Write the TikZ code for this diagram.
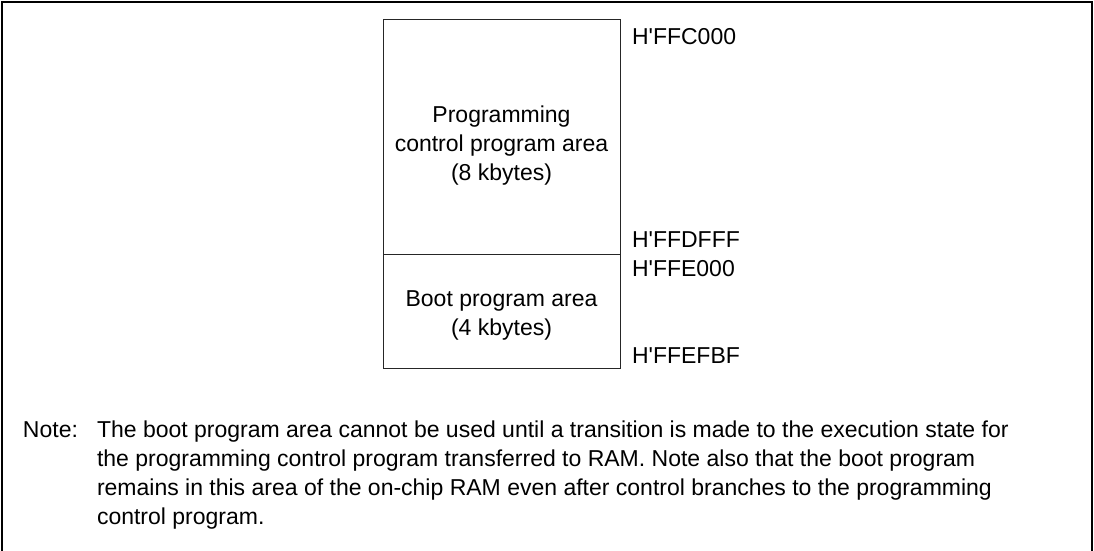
\documentclass[tikz,border=0pt]{standalone}
\usepackage{fontspec}
\setmainfont{Liberation Sans}
\begin{document}
\begin{tikzpicture}[x=1pt,y=1pt,
  every node/.style={inner sep=0pt, outer sep=0pt, font=\fontsize{23}{29}\selectfont},
  area/.style={draw=black!85, line width=1pt, minimum width=237pt},
  addr/.style={anchor=base west},
  frameline/.style={line width=1.6pt}]
\useasboundingbox (0,0) rectangle (1094,-550);
\draw[frameline] (2,-552) -- (2,-2) -- (1092,-2) -- (1092,-552);
% memory areas
\node[area, minimum height=235pt] (prog) at (501.5,-136.5) {};
\node[area, minimum height=114pt] (boot) at (501.5,-311) {};
\node[anchor=base, align=center] (progtxt) at (501.5,-180) {Programming\\control program area\\(8 kbytes)};
\node[anchor=base, align=center] (boottxt) at (501.5,-335) {Boot program area\\(4 kbytes)};
% addresses
\node[addr] (a1) at (632,-44) {H\textquotesingle FFC000};
\node[addr] (a2) at (632,-247) {H\textquotesingle FFDFFF};
\node[addr] (a3) at (632,-276) {H\textquotesingle FFE000};
\node[addr] (a4) at (632,-363) {H\textquotesingle FFEFBF};
% note
\node[addr] (notelbl) at (23,-437) {Note:};
\node[anchor=base west, align=left] (notetxt) at (97,-524) {The boot program area cannot be used until a transition is made to the execution state for\\the programming control program transferred to RAM. Note also that the boot program\\remains in this area of the on-chip RAM even after control branches to the programming\\control program.};
\end{tikzpicture}
\end{document}
